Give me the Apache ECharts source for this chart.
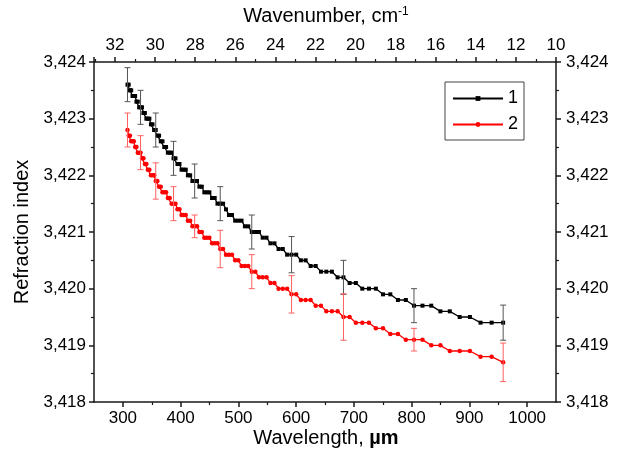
<!DOCTYPE html>
<html>
<head>
<meta charset="utf-8">
<script src="https://cdn.jsdelivr.net/npm/echarts@6/dist/echarts.min.js"></script>
<style>html,body{margin:0;padding:0;background:#fff}#c{width:619px;height:462px}</style>
</head>
<body>
<div id="c"></div>
<script>
// Wavelength (µm) of each measured point
const wavelength = [
  308.0, 310.1, 312.3, 314.4, 316.7, 318.9, 321.2, 323.5, 325.8, 328.2,
  330.6, 333.1, 335.6, 338.1, 340.7, 343.3, 345.9, 348.6, 351.3, 354.1,
  356.9, 359.8, 362.7, 365.6, 368.6, 371.7, 374.8, 377.9, 381.1, 384.4,
  387.7, 391.1, 394.5, 398.0, 401.6, 405.2, 408.9, 412.6, 416.5, 420.4,
  424.3, 428.4, 432.5, 436.7, 441.0, 445.4, 449.8, 454.4, 459.0, 463.8,
  468.6, 473.5, 478.6, 483.7, 489.0, 494.4, 499.9, 505.5, 511.3, 517.1,
  523.2, 529.4, 535.6, 542.1, 548.7, 555.5, 562.5, 569.6, 576.9, 584.4,
  592.1, 600.1, 608.2, 616.5, 625.1, 633.9, 643.0, 652.3, 661.9, 671.8,
  682.0, 692.6, 703.4, 714.6, 726.1, 738.1, 750.4, 763.1, 776.3, 790.0,
  804.1, 818.8, 834.0, 849.8, 866.1, 883.2, 900.9, 919.3, 938.5, 958.5
];
// Series 1 (black)
const n1 = [
  3.4236, 3.4236, 3.4235, 3.4235, 3.4234, 3.4234, 3.4234, 3.4233, 3.4233, 3.4232,
  3.4232, 3.4232, 3.4231, 3.4231, 3.4230, 3.4230, 3.4230, 3.4229, 3.4229, 3.4228,
  3.4228, 3.4227, 3.4227, 3.4226, 3.4226, 3.4225, 3.4225, 3.4224, 3.4224, 3.4224,
  3.4223, 3.4223, 3.4222, 3.4222, 3.4221, 3.4221, 3.4221, 3.4220, 3.4220, 3.4219,
  3.4219, 3.4219, 3.4218, 3.4218, 3.4217, 3.4217, 3.4217, 3.4216, 3.4216, 3.4215,
  3.4215, 3.4215, 3.4214, 3.4213, 3.4213, 3.4212, 3.4212, 3.4212, 3.4211, 3.4211,
  3.4210, 3.4210, 3.4210, 3.4209, 3.4209, 3.4208, 3.4208, 3.4207, 3.4207, 3.4206,
  3.4206, 3.4206, 3.4205, 3.4205, 3.4204, 3.4204, 3.4203, 3.4203, 3.4203, 3.4202,
  3.4202, 3.4201, 3.4201, 3.4200, 3.4200, 3.4200, 3.4199, 3.4199, 3.4198, 3.4198,
  3.4197, 3.4197, 3.4197, 3.4196, 3.4196, 3.4195, 3.4195, 3.4194, 3.4194, 3.4194
];
// Series 2 (red)
const n2 = [
  3.4228, 3.4227, 3.4227, 3.4226, 3.4226, 3.4226, 3.4225, 3.4225, 3.4224, 3.4224,
  3.4224, 3.4223, 3.4223, 3.4222, 3.4222, 3.4221, 3.4221, 3.4220, 3.4220, 3.4220,
  3.4219, 3.4219, 3.4218, 3.4218, 3.4217, 3.4217, 3.4217, 3.4216, 3.4216, 3.4215,
  3.4215, 3.4215, 3.4214, 3.4214, 3.4213, 3.4213, 3.4213, 3.4212, 3.4212, 3.4211,
  3.4211, 3.4211, 3.4210, 3.4210, 3.4209, 3.4209, 3.4209, 3.4208, 3.4208, 3.4208,
  3.4207, 3.4207, 3.4206, 3.4206, 3.4206, 3.4205, 3.4205, 3.4204, 3.4204, 3.4204,
  3.4203, 3.4203, 3.4202, 3.4202, 3.4202, 3.4201, 3.4201, 3.4200, 3.4200, 3.4200,
  3.4199, 3.4199, 3.4198, 3.4198, 3.4198, 3.4197, 3.4197, 3.4196, 3.4196, 3.4196,
  3.4195, 3.4195, 3.4194, 3.4194, 3.4194, 3.4193, 3.4193, 3.4192, 3.4192, 3.4191,
  3.4191, 3.4191, 3.4190, 3.4190, 3.4189, 3.4189, 3.4189, 3.4188, 3.4188, 3.4187
];
// Points carrying error bars, and half-widths of the bars
const errIndex = [0, 10, 20, 30, 40, 50, 60, 70, 80, 90, 99];
const err1 = [0.0003, 0.0003, 0.0003, 0.0003, 0.0003, 0.0003, 0.0003, 0.00032, 0.0003, 0.0003, 0.00031];
const err2 = [0.0003, 0.0003, 0.00032, 0.0003, 0.0002, 0.00033, 0.0003, 0.00033, 0.00041, 0.0002, 0.00034];
// Axis ticks
const xMajorTicks = [300, 400, 500, 600, 700, 800, 900, 1000];
const xMinorTicks = [350, 450, 550, 650, 750, 850, 950];
const seriesNames = ['1', '2'];

const chart = echarts.init(document.getElementById('c'), null, {renderer: 'canvas'});
const FONT = 'Liberation Sans, Arial, sans-serif';
const axisCol = '#1a1a1a';

function errData(vals, errs) {
  return errIndex.map((idx, k) => [wavelength[idx], vals[idx] - errs[k], vals[idx] + errs[k]]);
}
function errRender(color) {
  return function (params, api) {
    const x = api.value(0);
    const lo = api.coord([x, api.value(1)]);
    const hi = api.coord([x, api.value(2)]);
    const cw = 3;
    const st = {stroke: color, lineWidth: 1, fill: null};
    return {
      type: 'group',
      children: [
        {type: 'line', shape: {x1: lo[0], y1: lo[1], x2: hi[0], y2: hi[1]}, style: st},
        {type: 'line', shape: {x1: lo[0] - cw, y1: lo[1], x2: lo[0] + cw, y2: lo[1]}, style: st},
        {type: 'line', shape: {x1: hi[0] - cw, y1: hi[1], x2: hi[0] + cw, y2: hi[1]}, style: st}
      ]
    };
  };
}
const yFmt = v => v.toFixed(3).replace('.', ',');

const option = {
  animation: false,
  backgroundColor: '#fff',
  grid: {left: 94, right: 63, top: 62, bottom: 60, containLabel: false},
  legend: {
    left: 445, top: 82, orient: 'vertical',
    data: seriesNames,
    itemWidth: 50, itemHeight: 6, itemGap: 5,
    padding: [6, 6, 5, 7],
    borderColor: '#444', borderWidth: 1,
    textStyle: {fontFamily: FONT, fontSize: 18, color: '#000', lineHeight: 21}
  },
  xAxis: [
    {
      type: 'value', position: 'bottom', min: 250, max: 1050,
      axisLine: {show: true, onZero: false, lineStyle: {color: axisCol, width: 1.5}},
      axisTick: {show: true, inside: false, length: 5, customValues: xMajorTicks, lineStyle: {color: axisCol, width: 1.5}},
      axisLabel: {show: true, customValues: xMajorTicks, margin: 8, fontFamily: FONT, fontSize: 17, color: '#000', formatter: v => String(v)},
      splitLine: {show: false}
    },
    {
      type: 'value', position: 'top', min: 10, max: 33.05, interval: 2, inverse: true,
      axisLine: {show: true, onZero: false, lineStyle: {color: axisCol, width: 1.5}},
      axisTick: {show: true, inside: false, length: 5, lineStyle: {color: axisCol, width: 1.5}},
      minorTick: {show: true, splitNumber: 2, length: 3, lineStyle: {color: axisCol, width: 1.2}},
      axisLabel: {
        margin: 8, fontFamily: FONT, fontSize: 17, color: '#000',
        showMinLabel: true, showMaxLabel: false,
        formatter: v => (Math.abs(v - Math.round(v)) < 1e-6 && Math.round(v) % 2 === 0) ? String(Math.round(v)) : ''
      },
      splitLine: {show: false}
    },
    {
      type: 'value', position: 'bottom', min: 250, max: 1050,
      axisLine: {show: false},
      axisTick: {show: true, inside: false, length: 3, customValues: xMinorTicks, lineStyle: {color: axisCol, width: 1.2}},
      axisLabel: {show: false},
      splitLine: {show: false}
    }
  ],
  yAxis: [
    {
      type: 'value', position: 'left', min: 3.418, max: 3.424, interval: 0.001,
      axisLine: {show: true, onZero: false, lineStyle: {color: axisCol, width: 1.5}},
      axisTick: {show: true, inside: false, length: 5, lineStyle: {color: axisCol, width: 1.5}},
      minorTick: {show: true, splitNumber: 2, length: 3, lineStyle: {color: axisCol, width: 1.2}},
      axisLabel: {margin: 8, fontFamily: FONT, fontSize: 17, color: '#000', formatter: yFmt},
      splitLine: {show: false}
    },
    {
      type: 'value', position: 'right', min: 3.418, max: 3.424, interval: 0.001,
      axisLine: {show: true, onZero: false, lineStyle: {color: axisCol, width: 1.5}},
      axisTick: {show: true, inside: false, length: 5, lineStyle: {color: axisCol, width: 1.5}},
      minorTick: {show: true, splitNumber: 2, length: 3, lineStyle: {color: axisCol, width: 1.2}},
      axisLabel: {margin: 10, fontFamily: FONT, fontSize: 17, color: '#000', formatter: yFmt},
      splitLine: {show: false}
    }
  ],
  series: [
    {
      name: seriesNames[0], type: 'line', xAxisIndex: 0, yAxisIndex: 0,
      data: wavelength.map((w, i) => [w, n1[i]]),
      symbol: 'rect', symbolSize: 4, showAllSymbol: true,
      itemStyle: {color: '#000'}, lineStyle: {color: '#000', width: 1.3}, z: 3
    },
    {
      name: seriesNames[1], type: 'line', xAxisIndex: 0, yAxisIndex: 0,
      data: wavelength.map((w, i) => [w, n2[i]]),
      symbol: 'circle', symbolSize: 4.5, showAllSymbol: true,
      itemStyle: {color: '#ff0000'}, lineStyle: {color: '#ff0000', width: 1.3}, z: 3
    },
    {
      type: 'custom', xAxisIndex: 0, yAxisIndex: 0, z: 4,
      data: errData(n1, err1), encode: {x: 0, y: [1, 2]},
      renderItem: errRender('#555555')
    },
    {
      type: 'custom', xAxisIndex: 0, yAxisIndex: 0, z: 4,
      data: errData(n2, err2), encode: {x: 0, y: [1, 2]},
      renderItem: errRender('#ff6060')
    }
  ],
  graphic: [
    {
      type: 'text', x: 326, y: 16,
      style: {
        text: 'Wavenumber, cm{sup|-1}', fontFamily: FONT, fontSize: 20, fill: '#000',
        align: 'center', verticalAlign: 'middle',
        rich: {sup: {fontFamily: FONT, fontSize: 12, verticalAlign: 'top', fill: '#000'}}
      }
    },
    {
      type: 'text', x: 326, y: 438,
      style: {
        text: 'Wavelength, {b|µm}', fontFamily: FONT, fontSize: 20, fill: '#000',
        align: 'center', verticalAlign: 'middle',
        rich: {b: {fontFamily: FONT, fontSize: 20, fontWeight: 'bold', fill: '#000'}}
      }
    },
    {
      type: 'text', x: 22, y: 232, rotation: Math.PI / 2,
      style: {
        text: 'Refraction index', fontFamily: FONT, fontSize: 20, fill: '#000',
        align: 'center', verticalAlign: 'middle'
      }
    }
  ]
};
chart.setOption(option);
</script>
</body>
</html>
